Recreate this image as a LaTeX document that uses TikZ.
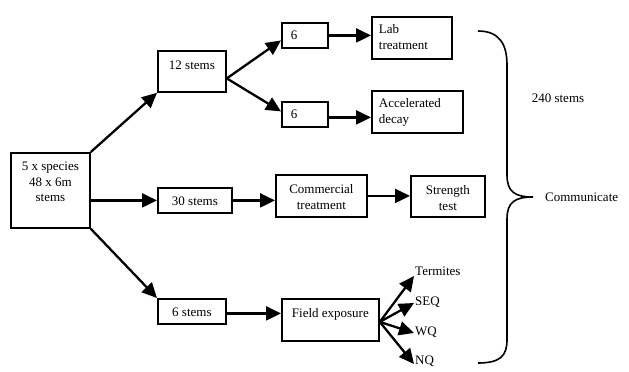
\documentclass[tikz,border=0pt]{standalone}
\usepackage{fontspec}
\setmainfont{Liberation Serif}
\usetikzlibrary{arrows.meta}
\tikzset{
  bx/.style={draw, line width=1.8pt, inner sep=0pt, anchor=north west, font=\fontsize{13}{15.5}\selectfont},
  arr/.style={line width=2.3pt, -{Triangle[length=15pt,width=14pt]}},
  lbl/.style={inner sep=1pt, anchor=west, font=\fontsize{13}{15.5}\selectfont},
}
\newcommand{\bxt}[5]{\parbox[c][#2pt][t]{#1pt}{\vspace*{#3pt}#4#5}}
\begin{document}
\begin{tikzpicture}[x=1pt,y=-1pt]
\useasboundingbox (0,0) rectangle (629,372);
% boxes
\node[bx] (main) at (10,152) {\bxt{79}{75}{9}{\centering}{5 x species\\48 x 6m\\stems}};
\node[bx] (s12) at (157,50) {\bxt{68}{41}{10}{\centering}{12 stems}};
\node[bx] (six1) at (281,22) {\bxt{46}{25}{8}{\hspace*{9pt}}{6}};
\node[bx] (six2) at (281,101) {\bxt{46}{25}{8}{\hspace*{9pt}}{6}};
\node[bx] (lab) at (371,16) {\bxt{80}{42}{8}{\raggedright\leftskip=7pt}{Lab\\treatment}};
\node[bx] (acc) at (371,90) {\bxt{91}{42}{8}{\raggedright\leftskip=7pt}{Accelerated\\decay}};
\node[bx] (s30) at (157,187) {\bxt{74}{25}{9}{\centering}{30 stems}};
\node[bx] (comm) at (275,174) {\bxt{91}{42}{10}{\centering}{Commercial\\treatment}};
\node[bx] (str) at (410,175) {\bxt{74}{41}{10}{\centering}{Strength\\test}};
\node[bx] (s6) at (157,298) {\bxt{68}{25}{9}{\centering}{6 stems}};
\node[bx] (field) at (281,298) {\bxt{97}{42}{10}{\centering}{Field exposure}};
% labels
\node[lbl] (term) at (414,271) {Termites};
\node[lbl] (seq) at (414,302) {SEQ};
\node[lbl] (wq) at (414,332) {WQ};
\node[lbl] (nq) at (414,361) {NQ};
\node[lbl, anchor=center] (tot) at (558,98) {240 stems};
\node[lbl] (comu) at (544,197) {Communicate};
% connectors
\draw[arr] (main.north east) -- (s12.south west);
\draw[arr] (main.east |- s30.west) -- (s30.west);
\draw[arr] (main.south east) -- (s6.north west);
\coordinate (s12o) at ([yshift=-7pt]s12.east);
\draw[arr] (s12o) -- ([yshift=-5pt]six1.west);
\draw[arr] (s12o) -- ([yshift=3pt]six2.west);
\draw[arr] (six1.east) -- (six1.east -| lab.west);
\draw[arr] ([yshift=-3pt]six2.east) -- ([yshift=-3pt]six2.east -| acc.west);
\draw[arr] (s30.east) -- (s30.east -| comm.west);
\draw[arr] (comm.east) -- (comm.east -| str.west);
\draw[arr] ([yshift=-2pt]s6.east) -- ([yshift=-2pt]s6.east -| field.west);
\coordinate (fo) at ([yshift=-2pt]field.east);
\draw[arr] (fo) -- ([yshift=-5pt]term.west);
\draw[arr] (fo) -- ([yshift=-1pt]seq.west);
\draw[arr] (fo) -- ([yshift=-1pt]wq.west);
\draw[arr] (fo) -- ([yshift=-3pt]nq.west);
% brace
\draw[line width=1.6pt] (478,31) .. controls (500,31) and (507,45) .. (507,65)
  -- (507,175) .. controls (507,192) and (515,197) .. (533,197)
  .. controls (515,197) and (507,202) .. (507,219)
  -- (507,340) .. controls (507,356) and (500,363) .. (478,363);
\end{tikzpicture}
\end{document}
